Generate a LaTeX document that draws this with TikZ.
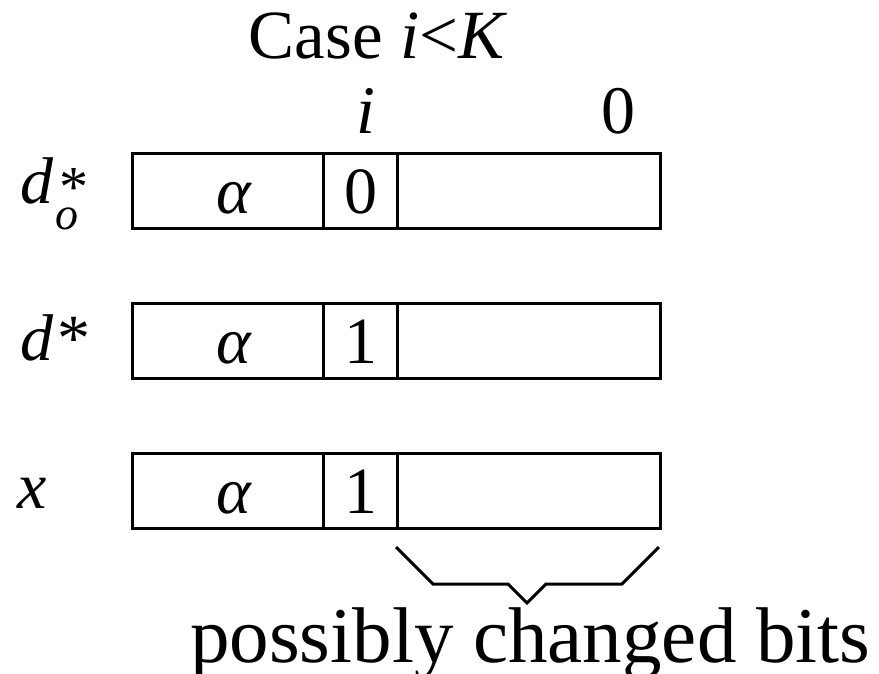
\documentclass[tikz,border=0pt]{standalone}
\usepackage{fontspec}
\setmainfont{Liberation Serif}
\begin{document}
\begin{tikzpicture}[x=1pt,y=-1pt,
  cell/.style={draw, line width=3pt, minimum height=75pt, inner sep=0pt, anchor=north west,
    font=\fontsize{66}{66}\selectfont, text height=44.6pt, text depth=0pt},
  lbl/.style={font=\fontsize{66}{66}\selectfont, anchor=base west, inner sep=0pt},
  top/.style={font=\fontsize{68}{68}\selectfont, anchor=base, inner sep=0pt},
  brace/.style={line width=3pt}]
\useasboundingbox (0,0) rectangle (879,673);
\node[anchor=base, inner sep=0pt, font=\fontsize{69}{69}\selectfont] (title) at (378,58) {Case \textit{i}<\textit{K}};
\node[top] (ti) at (366,133) {\textit{i}};
\node[top] (tz) at (618,133) {0};
% row 1
\node[cell, minimum width=191pt] (a1) at (131,152) {\hspace{12pt}\textit{α}};
\node[cell, minimum width=74pt] (b1) at (322,152) {0};
\node[cell, minimum width=263pt] (c1) at (396,152) {};
\node[lbl] (l1) at (20,203) {\textit{d}\hspace{6pt}\rlap{\raisebox{-3pt}{\fontsize{58}{58}\selectfont *}}\hspace{-4pt}\raisebox{-26pt}{\fontsize{46}{46}\selectfont\textit{o}}};
% row 2
\node[cell, minimum width=191pt] (a2) at (131,302) {\hspace{12pt}\textit{α}};
\node[cell, minimum width=74pt] (b2) at (322,302) {1};
\node[cell, minimum width=263pt] (c2) at (396,302) {};
\node[lbl] (l2) at (20,360) {\textit{d}\hspace{4pt}*};
% row 3
\node[cell, minimum width=191pt] (a3) at (131,452) {\hspace{12pt}\textit{α}};
\node[cell, minimum width=74pt] (b3) at (322,452) {1};
\node[cell, minimum width=263pt] (c3) at (396,452) {};
\node[lbl] (l3) at (17,508) {\textit{x}};
% brace
\coordinate (bl) at (396,547);
\coordinate (bl2) at (433,584);
\coordinate (bm1) at (508,584);
\coordinate (tip) at (527,603);
\coordinate (bm2) at (546,584);
\coordinate (br2) at (622,584);
\coordinate (br) at (659,547);
\draw[brace] (bl) -- (bl2) -- (bm1) -- (tip) -- (bm2) -- (br2) -- (br);
\node[anchor=base west, inner sep=0pt, font=\fontsize{79}{79}\selectfont] (cap) at (190,662) {possibly changed bits};
\end{tikzpicture}
\end{document}
